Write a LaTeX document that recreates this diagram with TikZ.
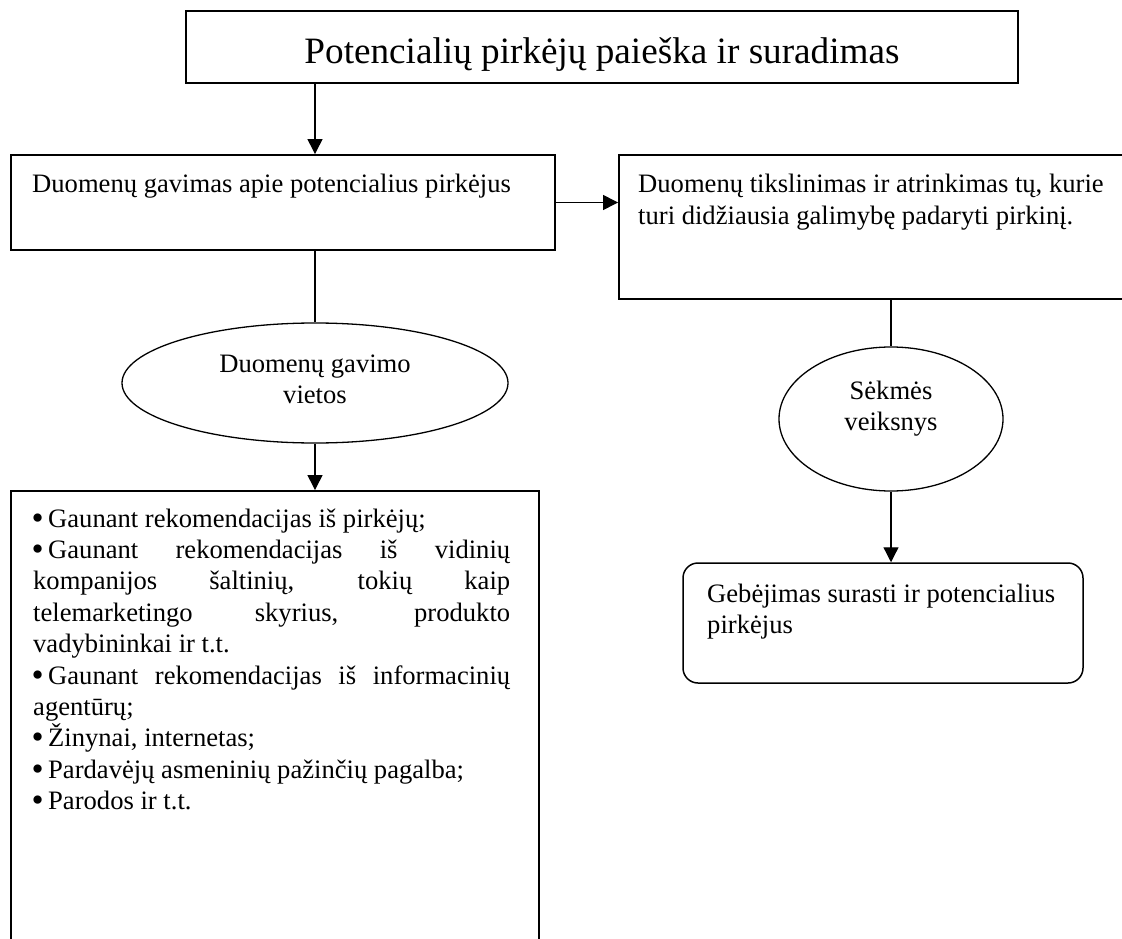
\documentclass[tikz,border=0pt]{standalone}
\usepackage{fontspec}
\setmainfont{Liberation Serif}
\usetikzlibrary{arrows.meta,shapes.geometric}
\newcommand\bodyfont{\fontsize{26.6pt}{31.4pt}\selectfont}
\newcommand\headfont{\fontsize{37.2pt}{44pt}\selectfont}
\newcommand\itm{\makebox[15pt][l]{\hspace{-1.5pt}\raisebox{-2pt}{\scalebox{1.3}{\textbullet}}}}
\begin{document}
\begin{tikzpicture}[x=1pt,y=-1pt,
  frame/.style={draw,line width=1.9pt,rectangle,inner sep=0pt},
  oval/.style={draw,line width=1.3pt,ellipse,inner sep=0pt},
  link/.style={line width=1.3pt},
  arr/.style={link,-{Triangle[length=15pt,width=15pt]}},
  txt/.style={inner sep=0pt,anchor=base west,font=\bodyfont},
  ctxt/.style={inner sep=0pt,anchor=base,font=\bodyfont}]
\useasboundingbox (0,0) rectangle (1122,939);
\clip (0,0) rectangle (1122,939);

% boxes and ovals
\node[frame,minimum width=832pt,minimum height=72pt] (top) at (602,47) {};
\node[frame,minimum width=544pt,minimum height=95pt] (data) at (283,202.5) {};
\node[frame,minimum width=544pt,minimum height=144pt] (sel) at (891,227) {};
\node[oval,minimum width=386pt,minimum height=120pt] (ell1) at (315,383) {};
\node[oval,minimum width=224pt,minimum height=144pt] (ell2) at (891,419) {};
\node[frame,minimum width=528pt,minimum height=480pt] (list) at (275,731) {};
\node[frame,line width=1.5pt,rounded corners=15pt,minimum width=400pt,minimum height=120pt] (goal) at (883,623) {};

% texts
\node[inner sep=0pt,anchor=base,font=\headfont] (title) at (602,64) {Potencialių pirkėjų paieška ir suradimas};
\node[txt] (t1) at (32,193) {Duomenų gavimas apie potencialius pirkėjus};
\node[txt] (t2a) at (638,193) {Duomenų tikslinimas ir atrinkimas tų, kurie};
\node[txt] (t2b) at (638,224) {turi didžiausia galimybę padaryti pirkinį.};
\node[ctxt] (e1a) at (315,372) {Duomenų gavimo};
\node[ctxt] (e1b) at (315,403) {vietos};
\node[ctxt] (e2a) at (891,399) {Sėkmės};
\node[ctxt] (e2b) at (891,430) {veiksnys};
\node[txt] (g1) at (707,602) {Gebėjimas surasti ir potencialius};
\node[txt] (g2) at (707,633) {pirkėjus};

\node[txt] (items) at (33,527) {\vtop{\hsize=477pt \baselineskip=31.4pt \lineskiplimit=-100pt
  \hbox{\itm Gaunant rekomendacijas iš pirkėjų;}
  \hbox to 477pt{\itm Gaunant rekomendacijas iš vidinių}
  \hbox to 477pt{kompanijos šaltinių, tokių kaip}
  \hbox to 477pt{telemarketingo skyrius, produkto}
  \hbox{vadybininkai ir t.t.}
  \hbox to 477pt{\itm Gaunant rekomendacijas iš informacinių}
  \hbox{agentūrų;}
  \hbox{\itm Žinynai, internetas;}
  \hbox{\itm Pardavėjų asmeninių pažinčių pagalba;}
  \hbox{\itm Parodos ir t.t.}}};

% connectors
\draw[arr] (top.south -| ell1.north) -- (data.north -| ell1.north);
\draw[arr] (data.east) -- (data.east -| sel.west);
\draw[link] (data.south -| ell1.north) -- (ell1.north);
\draw[arr] (ell1.south) -- (list.north -| ell1.south);
\draw[link] (sel.south) -- (ell2.north);
\draw[arr] (ell2.south) -- (goal.north -| ell2.south);
\end{tikzpicture}
\end{document}
